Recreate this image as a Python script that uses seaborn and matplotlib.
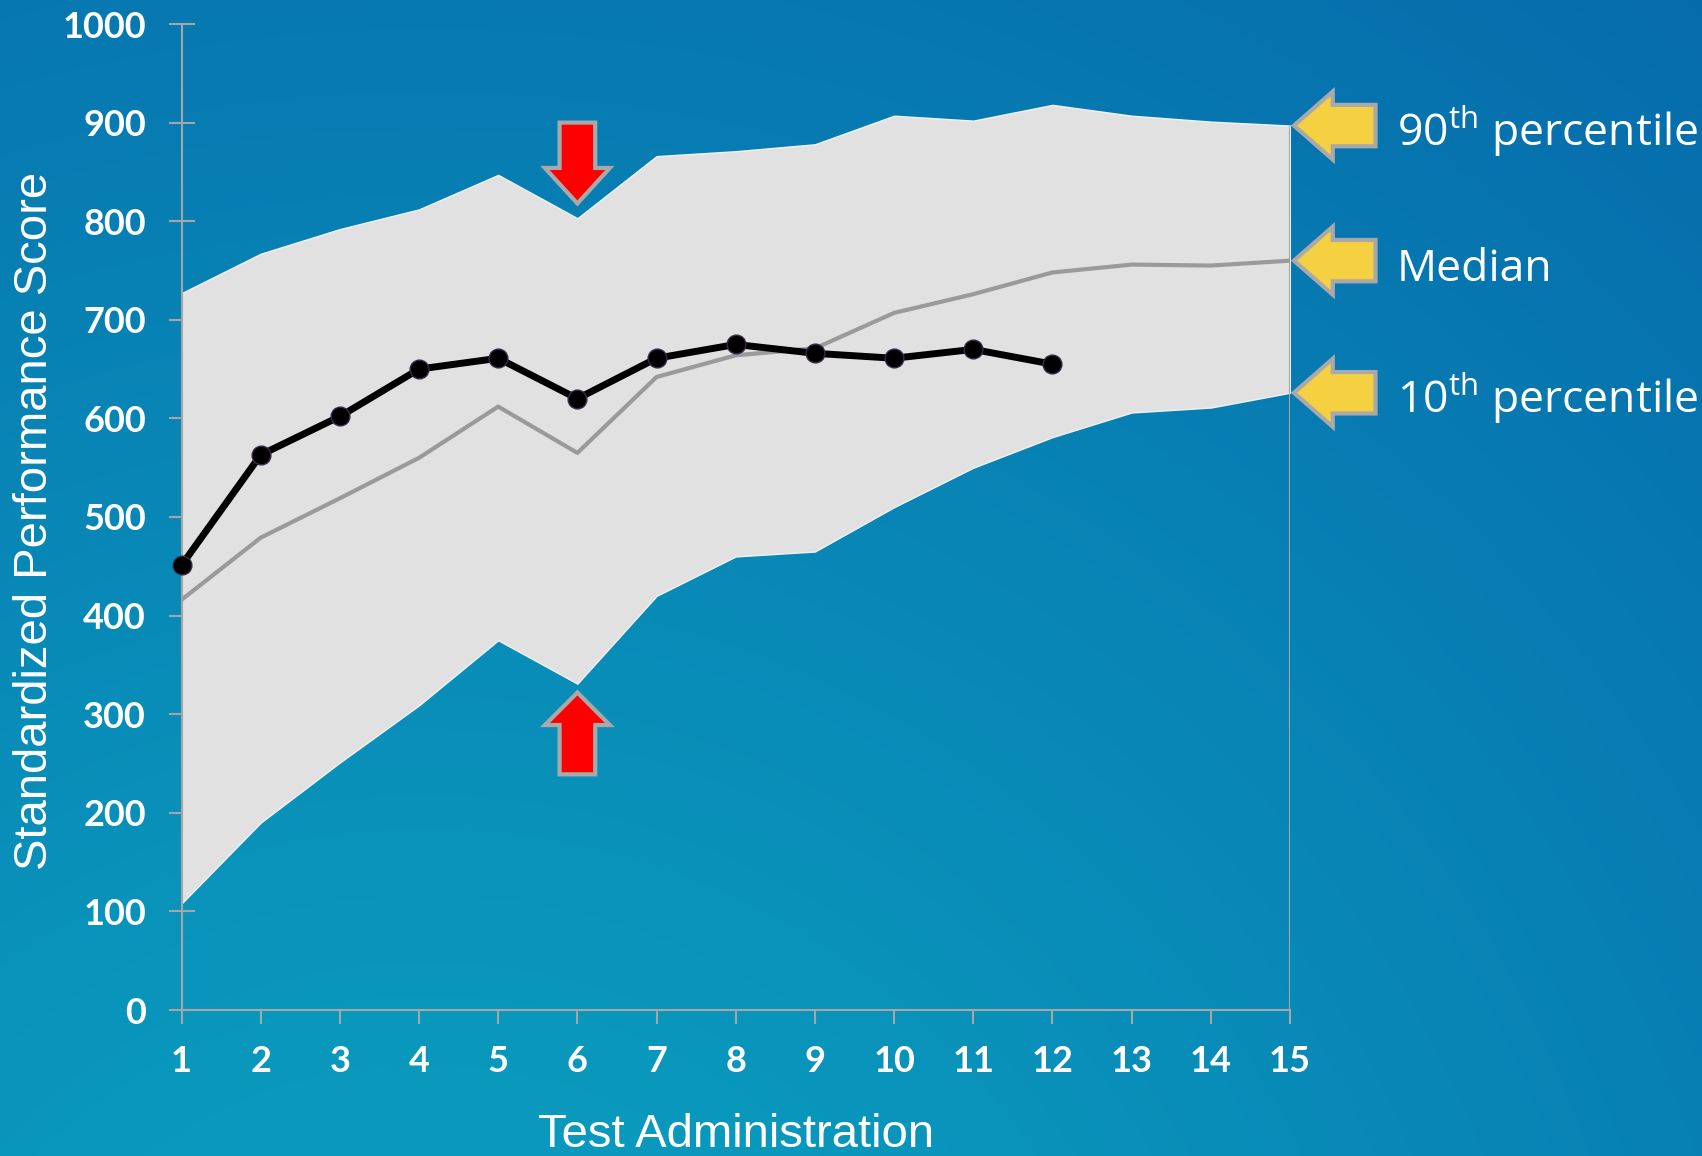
import numpy as np
import matplotlib
matplotlib.use("Agg")
import matplotlib.pyplot as plt
import seaborn as sns
from matplotlib.patches import FancyArrow

# Score bands by test administration
administrations = list(range(1, 16))
p90 = [727, 767, 792, 812, 847, 803, 866, 871, 878, 907, 902, 918, 907, 901, 897]
median = [416, 479, 519, 560, 612, 565, 642, 664, 671, 707, 726, 748, 756, 755, 760]
p10 = [108, 190, 251, 309, 375, 331, 420, 460, 465, 510, 550, 581, 606, 611, 626]

# Individual student's scores
student_admin = list(range(1, 13))
student = [451, 563, 602, 650, 661, 620, 661, 675, 666, 661, 670, 655]

y_ticks = [0, 100, 200, 300, 400, 500, 600, 700, 800, 900, 1000]
x_ticks = administrations
band_labels = ["90$^{\\mathrm{th}}$ percentile", "Median", "10$^{\\mathrm{th}}$ percentile"]
band_ends = [p90[-1], median[-1], p10[-1]]

sns.set_theme(style="white")
plt.rcParams["font.family"] = ["Liberation Sans", "DejaVu Sans"]
plt.rcParams["mathtext.fontset"] = "custom"
plt.rcParams["mathtext.rm"] = "Open Sans"
plt.rcParams["mathtext.it"] = "Open Sans"
plt.rcParams["mathtext.bf"] = "Open Sans"

W, H = 1702, 1156
fig = plt.figure(figsize=(W / 100, H / 100), dpi=100)

# Slide-style blue radial background
bg = fig.add_axes([0, 0, 1, 1], zorder=-10)
gy, gx = np.mgrid[0:H:4, 0:W:4]
dist = np.hypot(gx - 0.25 * W, gy - 1.35 * H)
t = np.clip((dist - 500) / 1500, 0, 1)[..., None]
inner = np.array([10, 153, 189]) / 255
outer = np.array([6, 108, 172]) / 255
bg.imshow(inner * (1 - t) + outer * t, aspect="auto", interpolation="bilinear",
          extent=[0, 1, 0, 1])
bg.axis("off")

ax = fig.add_axes([181.5 / W, 146 / H, 1108.5 / W, 986 / H])
ax.set_facecolor("none")

ax.fill_between(administrations, p10, p90, facecolor="#e1e1e1",
                edgecolor="#f2f2f2", linewidth=1, zorder=1)
ax.vlines(administrations[-1], 0, p90[-1], color="#a6a6a6", lw=1.5, zorder=2)

sns.lineplot(x=administrations, y=median, ax=ax, color="#9a9a9a", lw=3, zorder=3)
sns.lineplot(x=student_admin, y=student, ax=ax, color="black", lw=5, marker="o",
             markersize=13.5, markeredgecolor="#3a2a4a", markeredgewidth=1,
             zorder=4, clip_on=False)

ax.set_xlim(1, 15)
ax.set_ylim(0, 1000)
ax.set_xticks(x_ticks)
ax.set_xticklabels([str(v) for v in x_ticks], fontweight="bold", family="Lato",
                   fontsize=26, color="white")
ax.set_yticks(y_ticks)
ax.set_yticklabels([str(v) for v in y_ticks], fontweight="bold", family="Lato",
                   fontsize=26, color="white")
ax.tick_params(axis="y", left=True, direction="inout", length=19, width=1.5,
               color="#a6a6a6", pad=16)
ax.tick_params(axis="x", bottom=True, direction="out", length=10, width=1.5,
               color="#a6a6a6", pad=15)
for side in ["top", "right"]:
    ax.spines[side].set_visible(False)
for side in ["left", "bottom"]:
    ax.spines[side].set_color("#a6a6a6")
    ax.spines[side].set_linewidth(1.5)
ax.set_xlabel("")
ax.set_ylabel("")

# Red arrows marking the dip at administration 6
arrow_kw = dict(width=0.45, head_width=0.82, length_includes_head=True,
                fc="#ff0000", ec="#a9a9a9", lw=3, zorder=6)
ax.add_patch(FancyArrow(6, 900, 0, -82, head_length=36, **arrow_kw))
ax.add_patch(FancyArrow(6, 239, 0, 83, head_length=33, **arrow_kw))

# Yellow pointers and band labels on the right
for lbl, v in zip(band_labels, band_ends):
    ax.add_patch(FancyArrow(16.08, v, -1.03, 0, width=42, head_width=69,
                            head_length=0.49, length_includes_head=True,
                            fc="#f5d142", ec="#a9a9a9", lw=3, clip_on=False, zorder=6))
    ax.text(16.35, v - 21, lbl, fontsize=32, color="white", family="Open Sans",
            va="baseline", ha="left", clip_on=False)

fig.text(35.5 / W, 1 - 521 / H, "Standardized Performance Score", rotation=90,
         ha="center", va="center", fontsize=34, color="white", family="Liberation Sans")
fig.text(736 / W, 9 / H, "Test Administration", ha="center", va="baseline",
         fontsize=34, color="white", family="Liberation Sans")

fig.savefig("out.png", dpi=100)
